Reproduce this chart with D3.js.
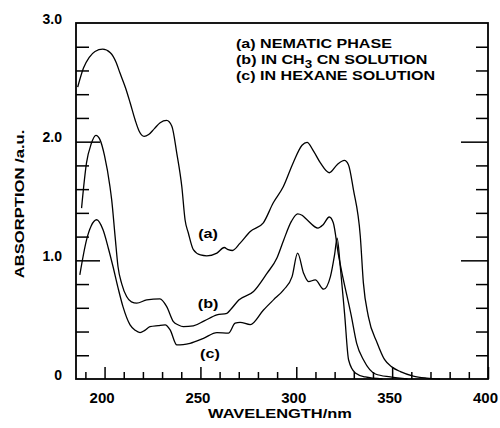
<!DOCTYPE html>
<html>
<head>
<meta charset="utf-8">
<script src="https://cdn.jsdelivr.net/npm/d3@7"></script>
<style>
  body { margin: 0; background: #fff; }
  svg { display: block; font-family: "Liberation Sans", Arial, sans-serif; font-weight: bold; }
</style>
</head>
<body>
<svg id="chart" width="500" height="428"></svg>
<script>
// (a) nematic phase
const wlA = [186, 189, 192, 195, 199, 203, 206, 208, 211, 213.3, 216, 218, 220.6, 223, 226, 229, 232.4, 235.1,
    237.7, 240.3, 242, 243.7, 246.3, 250, 253.3, 258.6, 262.4, 264.5, 266.7, 270.7, 276, 282.8, 288, 293.2,
    298.4, 303, 305.6, 309, 312.5, 317.2, 321.3, 325.1, 327.2, 329.8, 333.4, 335, 337.6, 342.2, 346, 350,
    354.3, 361, 368, 375];
const absA = [2.46, 2.62, 2.71, 2.76, 2.78, 2.75, 2.67, 2.58, 2.45, 2.33, 2.18, 2.09, 2.045, 2.06, 2.11, 2.16, 2.18, 2.13,
    1.90, 1.62, 1.34, 1.23, 1.09, 1.045, 1.038, 1.061, 1.108, 1.09, 1.083, 1.145, 1.243, 1.316, 1.485, 1.62,
    1.823, 1.97, 1.994, 1.92, 1.823, 1.738, 1.806, 1.842, 1.806, 1.595, 1.201, 0.81, 0.526, 0.304, 0.165, 0.10,
    0.062, 0.025, 0.008, 0.0];

// (b) in CH3CN solution
const wlB = [188, 190.6, 193, 195.5, 197.6, 200, 202.8, 203.7, 205.5, 207, 209, 211.5, 214, 216.8, 222, 228.9,
    232.4, 235.9, 238.5, 241.1, 246.3, 252, 258.6, 263.8, 266, 270, 277.7, 284.7, 289.9, 293.4, 297.5, 300.7,
    303, 305.6, 311.3, 314, 317.2, 319.3, 322, 323.5, 328.7, 331.5, 335.1, 341.3, 349, 358];
const absB = [1.44, 1.823, 1.98, 2.053, 2.017, 1.88, 1.623, 1.511, 1.20, 0.948, 0.80, 0.695, 0.65, 0.639, 0.667, 0.675,
    0.61, 0.484, 0.455, 0.441, 0.447, 0.49, 0.54, 0.554, 0.59, 0.665, 0.737, 0.89, 1.02, 1.17, 1.33, 1.392,
    1.38, 1.342, 1.272, 1.30, 1.365, 1.316, 1.046, 0.92, 0.532, 0.30, 0.16, 0.042, 0.017, 0.0];

// (c) in hexane solution
const wlC = [187.1, 190.6, 193, 195.9, 199.2, 202, 204.4, 207, 209.6, 213.3, 216, 218.5, 221, 223.7, 228, 231.6,
    234.2, 237.7, 241, 244.6, 251.6, 258.6, 264.6, 268.1, 270.7, 276, 282.9, 288.1, 293.4, 297.8, 300.7,
    303.8, 306.4, 309.9, 314.3, 317.8, 320, 321.3, 323, 325.2, 327.3, 330.8, 336, 345];
const absC = [0.878, 1.173, 1.29, 1.342, 1.257, 1.10, 0.948, 0.77, 0.61, 0.456, 0.41, 0.391, 0.41, 0.441, 0.45, 0.456,
    0.414, 0.287, 0.29, 0.301, 0.343, 0.391, 0.386, 0.47, 0.478, 0.458, 0.582, 0.667, 0.751, 0.863, 1.061,
    0.892, 0.821, 0.835, 0.757, 0.863, 1.05, 1.187, 0.937, 0.549, 0.16, 0.051, 0.017, 0.0];

const curveLabels = ['(a)', '(b)', '(c)'];
const labelWl = [254, 254, 255];
const labelAbs = [1.19, 0.60, 0.18];

const xMajorTicks = [200, 250, 300, 350, 400];
const xMinorTicks = [190, 210, 220, 230, 240, 260, 270, 280, 290, 310, 320, 330, 340, 360, 370, 380, 390];
const yLabelTicks = [0, 1, 2, 3];
const yMajorTicks = [1, 2];
const yMinorTicks = [0.2, 0.4, 0.6, 0.8, 1.2, 1.4, 1.6, 1.8, 2.2, 2.4, 2.6, 2.8];

function drawChart() {
    const svg = d3.select('#chart');
    svg.selectAll('*').remove();

    const x = d3.scaleLinear().domain([185.1, 400]).range([76, 488]);
    const y = d3.scaleLinear().domain([0, 3]).range([379, 23]);

    const series = [
        wlA.map((w, i) => ({w: w, v: absA[i]})),
        wlB.map((w, i) => ({w: w, v: absB[i]})),
        wlC.map((w, i) => ({w: w, v: absC[i]}))
    ];

    const line = d3.line()
        .x(d => x(d.w))
        .y(d => y(d.v))
        .curve(d3.curveMonotoneX);

    svg.append('g').selectAll('path')
        .data(series)
        .enter().append('path')
        .attr('d', line)
        .attr('fill', 'none')
        .attr('stroke', '#000')
        .attr('stroke-width', 1.3);

    // bottom ticks (point inward)
    const bottom = svg.append('g').attr('transform', `translate(0,${y(0)})`);
    bottom.append('g')
        .call(d3.axisBottom(x).tickValues(xMinorTicks).tickSize(-7).tickFormat(''));
    bottom.append('g')
        .call(d3.axisBottom(x).tickValues(xMajorTicks).tickSize(-12).tickPadding(13))
        .selectAll('text')
        .attr('dx', -3)
        .style('font-size', '15px');

    // left ticks
    const left = svg.append('g').attr('transform', `translate(${x.range()[0]},0)`);
    left.append('g')
        .call(d3.axisLeft(y).tickValues(yMinorTicks).tickSize(-13).tickFormat(''));
    left.append('g')
        .call(d3.axisLeft(y).tickValues(yMajorTicks).tickSize(-24).tickFormat(''));
    left.append('g')
        .call(d3.axisLeft(y).tickValues(yLabelTicks).tickSize(0)
            .tickFormat(d => d === 0 ? '0' : d3.format('.1f')(d)))
        .selectAll('text')
        .attr('x', -14)
        .attr('dy', 0)
        .style('font-size', '14px');

    // right ticks
    const right = svg.append('g').attr('transform', `translate(${x.range()[1]},0)`);
    right.append('g')
        .call(d3.axisRight(y).tickValues(yMinorTicks).tickSize(-12).tickFormat(''));
    right.append('g')
        .call(d3.axisRight(y).tickValues(yMajorTicks).tickSize(-27).tickFormat(''));

    svg.selectAll('.domain').remove();
    svg.selectAll('.tick line').attr('stroke', '#000').attr('stroke-width', 1.5);
    svg.selectAll('.tick text').attr('fill', '#000').style('font-weight', 'bold')
        .style('font-family', '"Liberation Sans", Arial, sans-serif');

    // frame
    svg.append('rect')
        .attr('x', x.range()[0])
        .attr('y', y.range()[1])
        .attr('width', x.range()[1] - x.range()[0])
        .attr('height', y.range()[0] - y.range()[1])
        .attr('fill', 'none')
        .attr('stroke', '#000')
        .attr('stroke-width', 1.8);

    // curve labels
    svg.append('g').selectAll('text')
        .data(curveLabels)
        .enter().append('text')
        .attr('transform', (d, i) => `translate(${x(labelWl[i])},${y(labelAbs[i])}) scale(1.35,1)`)
        .attr('text-anchor', 'middle')
        .style('font-size', '12px')
        .text(d => d);

    // legend
    const legend = svg.append('g')
        .attr('transform', 'translate(236,48) scale(1.34,1)')
        .style('font-size', '12px');
    legend.append('text').attr('y', 0).text('(a) NEMATIC PHASE');
    const lb = legend.append('text').attr('y', 16);
    lb.append('tspan').text('(b) IN CH');
    lb.append('tspan').attr('dy', 4).style('font-size', '10px').text('3');
    lb.append('tspan').attr('dy', -4).text(' CN SOLUTION');
    legend.append('text').attr('y', 32).text('(c) IN HEXANE SOLUTION');

    // axis titles
    svg.append('text')
        .attr('transform', 'translate(280,418) scale(1.37,1)')
        .attr('text-anchor', 'middle')
        .style('font-size', '12px')
        .text('WAVELENGTH/nm');

    svg.append('text')
        .attr('transform', 'translate(24,204) rotate(-90) scale(1.28,1)')
        .attr('text-anchor', 'middle')
        .style('font-size', '13px')
        .text('ABSORPTION /a.u.');
}

drawChart();
</script>
</body>
</html>
